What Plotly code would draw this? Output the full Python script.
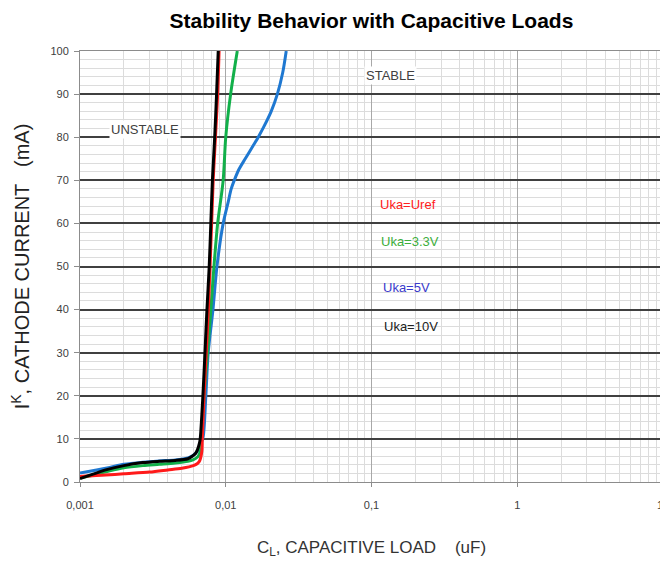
import plotly.graph_objects as go

# ---- data (capacitance in uF, cathode current in mA) ----
black_x = [0.001, 0.0012, 0.0015, 0.002, 0.0027, 0.0035, 0.0045, 0.0055, 0.0059, 0.0062,
           0.0064, 0.0066, 0.00668, 0.00697, 0.0072, 0.00743, 0.0077, 0.0079, 0.0081, 0.0084,
           0.00865, 0.00888]
black_y = [0.8, 1.7, 2.8, 3.8, 4.5, 4.8, 5.0, 5.4, 6.0, 6.6,
           7.5, 9.0, 10, 20, 30, 40, 50, 60, 70, 80,
           90, 100]

red_x = [0.001, 0.0015, 0.002, 0.003, 0.004, 0.005, 0.006, 0.0064, 0.0066, 0.00685,
         0.0069, 0.0071, 0.00735, 0.0076, 0.0078, 0.0080, 0.0082, 0.0085, 0.0088, 0.009]
red_y = [1.3, 1.6, 1.9, 2.3, 2.8, 3.2, 3.8, 4.3, 4.8, 7.0,
         10, 20, 30, 40, 50, 60, 70, 80, 90, 100]

green_x = [0.001, 0.0013, 0.0016, 0.002, 0.0027, 0.0035, 0.0045, 0.0055, 0.006, 0.0064,
           0.0066, 0.0067, 0.0068, 0.0071, 0.0075, 0.0079, 0.0083, 0.0088, 0.0096, 0.0100,
           0.0108, 0.012]
green_y = [0.9, 1.8, 2.6, 3.3, 3.8, 4.1, 4.4, 4.8, 5.2, 5.8,
           6.5, 7.8, 10, 20, 30, 40, 50, 60, 70, 80,
           90, 100]

blue_x = [0.001, 0.0013, 0.0016, 0.002, 0.0027, 0.0035, 0.0045, 0.0055, 0.006, 0.0064,
          0.0067, 0.0070, 0.0073, 0.00758, 0.00817, 0.0087, 0.0096, 0.0104, 0.0109, 0.0116,
          0.0123, 0.0136, 0.0154, 0.0167, 0.0183, 0.0205, 0.0226, 0.0246, 0.026]
blue_y = [2.1, 2.8, 3.4, 4.1, 4.6, 4.9, 5.1, 5.6, 6.2, 7.2,
          8.6, 10.5, 20, 30, 40, 50, 60, 65, 68, 70.5,
          72.5, 75, 78, 80, 82.5, 86, 90, 95, 100]

x_tickvals = [0.001, 0.01, 0.1, 1, 10]
x_ticktext = ["0,001", "0,01", "0,1", "1", "10"]
y_tickvals = [0, 10, 20, 30, 40, 50, 60, 70, 80, 90, 100]

labels = ["Uka=Uref", "Uka=3.3V", "Uka=5V", "Uka=10V"]
label_colors = ["#ff2020", "#3cae3c", "#3a3acc", "#222222"]
label_x = [-0.753, -0.739, -0.759, -0.732]   # log10 positions
label_y = [64.5, 55.7, 45.2, 36.0]

FONT = "Liberation Sans Narrow, Arial Narrow, Liberation Sans, Arial, sans-serif"

fig = go.Figure()
series = [
    (blue_x, blue_y, "#1f78d1"),
    (green_x, green_y, "#12b04a"),
    (red_x, red_y, "#ff1a1a"),
    (black_x, black_y, "#000000"),
]
for xs, ys, col in series:
    fig.add_trace(go.Scatter(x=xs, y=ys, mode="lines",
                             line=dict(color=col, width=3, shape="spline", smoothing=0.8),
                             showlegend=False, hoverinfo="skip"))

for t, c, lx, ly in zip(labels, label_colors, label_x, label_y):
    fig.add_annotation(x=lx, y=ly, text=t, showarrow=False,
                       font=dict(family=FONT, size=13, color=c))

fig.add_annotation(x=-2.553, y=81.7, text="UNSTABLE", showarrow=False, bgcolor="white",
                   font=dict(family=FONT, size=13, color="#404040"))
fig.add_annotation(x=-0.869, y=94.4, text="STABLE", showarrow=False, bgcolor="white",
                   font=dict(family=FONT, size=13, color="#404040"))

# the page body adds an 8px margin, so the figure is sized to fit the window
fig.update_layout(
    width=660, height=554,
    margin=dict(l=72, r=5, t=43, b=80),
    paper_bgcolor="white", plot_bgcolor="white",
    title=dict(text="<b>Stability Behavior with Capacitive Loads</b>",
               x=0.5, xref="paper", y=0.977, yref="container", yanchor="middle",
               font=dict(family=FONT, size=21, color="#000000")),
    font=dict(family=FONT),
)

fig.update_xaxes(
    type="log", range=[-3, 1], automargin=False,
    tickvals=x_tickvals, ticktext=x_ticktext, ticklabeloverflow="allow",
    ticklabelstandoff=9,
    tickfont=dict(family=FONT, size=11, color="#404040"),
    showgrid=True, gridcolor="#a8a8a8", gridwidth=1,
    minor=dict(dtick="D1", showgrid=True, gridcolor="#dcdcdc", gridwidth=1),
    showline=True, linecolor="#8c8c8c", linewidth=1, mirror=True,
    ticks="outside", ticklen=4, tickcolor="#8c8c8c",
    zeroline=False,
    title=dict(text="C<sub>L</sub>, CAPACITIVE LOAD\u00a0\u00a0\u00a0\u00a0(uF)",
               font=dict(family=FONT, size=17, color="#333333"), standoff=30),
)
fig.update_yaxes(
    range=[0, 100], tickvals=y_tickvals, automargin=False,
    ticklabelstandoff=3,
    tickfont=dict(family=FONT, size=11, color="#404040"),
    showgrid=True, gridcolor="#404040", gridwidth=1.5,
    minor=dict(dtick=2, showgrid=True, gridcolor="#dcdcdc", gridwidth=1),
    showline=True, linecolor="#8c8c8c", linewidth=1, mirror=True,
    ticks="outside", ticklen=5, tickcolor="#8c8c8c",
    zeroline=False,
    title=dict(text="I<sup>K</sup>, CATHODE CURRENT\u00a0\u00a0\u00a0(mA)",
               font=dict(family=FONT, size=20, color="#222222"), standoff=21),
)

fig.write_html("out.html")
